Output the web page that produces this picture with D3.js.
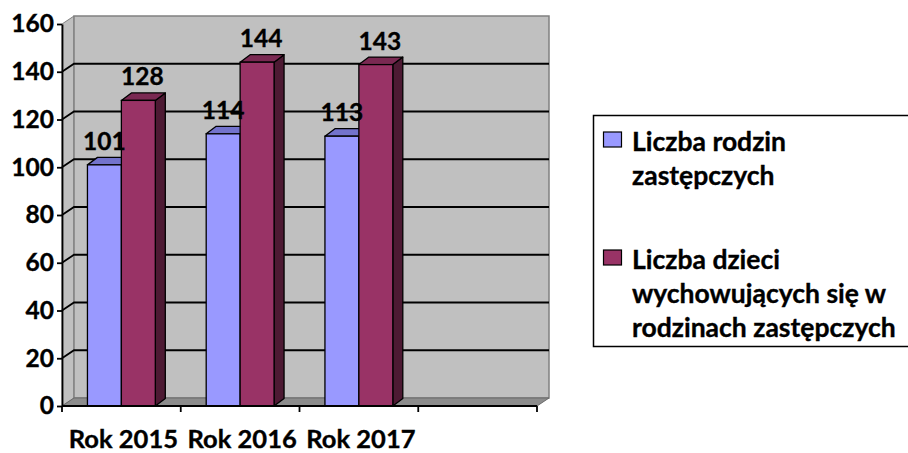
<!DOCTYPE html>
<html>
<head>
<meta charset="utf-8">
<script src="https://cdn.jsdelivr.net/npm/d3@7"></script>
<style>
  html, body { margin: 0; padding: 0; background: #fff; }
  text { font-family: Lato, "Open Sans", sans-serif; font-weight: bold; fill: #000; stroke: #000; stroke-width: 0.35px; }
</style>
</head>
<body>
<svg id="chart" width="908" height="453"></svg>
<script>
// ---- data ----
const categories = ["Rok 2015", "Rok 2016", "Rok 2017", ""];
const seriesNames = ["Liczba rodzin zastępczych", "Liczba dzieci wychowujących się w rodzinach zastępczych"];
const families = [101, 114, 113];
const children = [128, 144, 143];
const yTicks = [0, 20, 40, 60, 80, 100, 120, 140, 160];
const legendLines = [["Liczba rodzin", "zastępczych"], ["Liczba dzieci", "wychowujących się w", "rodzinach zastępczych"]];

// ---- styling / layout ----
const colors = [
  { front: "#9999ff", top: "#7373cc", side: "#4d4d80" },
  { front: "#993366", top: "#7a2952", side: "#4d1a33" }
];
const svg = d3.select("#chart");
const x0 = 62, x1 = 537, yBase = 406, yTop = 24;
const wallDx = 12, wallDy = -8;   // depth of walls
const barDx = 10, barDy = -7.5;   // depth of bars

const x = d3.scaleBand().domain(categories).range([x0, x1]).paddingInner(0).paddingOuter(0);
const xs = d3.scaleBand().domain([0, 1]).range([0, x.bandwidth()]).paddingInner(0).paddingOuter(0.75);
const y = d3.scaleLinear().domain([0, 160]).range([yBase, yTop]);

// ---- walls ----
const g = svg.append("g");
g.append("polygon")
  .attr("points", [[x0, y(160)], [x0 + wallDx, y(160) + wallDy], [x0 + wallDx, y(0) + wallDy], [x0, y(0)]].join(" "))
  .attr("fill", "#c0c0c0").attr("stroke", "#808080").attr("stroke-width", 1);
g.append("rect")
  .attr("x", x0 + wallDx).attr("y", y(160) + wallDy)
  .attr("width", x1 - x0).attr("height", y(0) - y(160))
  .attr("fill", "#c0c0c0").attr("stroke", "#808080").attr("stroke-width", 1.5);
g.append("polygon")
  .attr("points", [[x0, y(0)], [x1, y(0)], [x1 + wallDx, y(0) + wallDy], [x0 + wallDx, y(0) + wallDy]].join(" "))
  .attr("fill", "#8c8c8c").attr("stroke", "#6a6a6a").attr("stroke-width", 1);

const gridVals = yTicks.filter(v => v > 0 && v < 160);
g.selectAll(".grid").data(gridVals).enter().append("polyline")
  .attr("points", v => [[x0, y(v)], [x0 + wallDx, y(v) + wallDy], [x1 + wallDx, y(v) + wallDy]].join(" "))
  .attr("fill", "none").attr("stroke", "#000").attr("stroke-width", 1.8);

// ---- bars ----
const series = [families, children];
const bars = [];
categories.forEach((c, i) => {
  series.forEach((s, j) => {
    if (s[i] === undefined) return;
    bars.push({ cat: c, si: j, v: s[i] });
  });
});
const bg = svg.append("g");
bars.forEach(b => {
  const bx = x(b.cat) + xs(b.si), bw = xs.bandwidth();
  const by = y(b.v), bb = y(0);
  const col = colors[b.si];
  bg.append("polygon")
    .attr("points", [[bx + bw, by], [bx + bw + barDx, by + barDy], [bx + bw + barDx, bb + barDy], [bx + bw, bb]].join(" "))
    .attr("fill", col.side).attr("stroke", "#000").attr("stroke-width", 1.3).attr("stroke-linejoin", "round");
  bg.append("polygon")
    .attr("points", [[bx, by], [bx + barDx, by + barDy], [bx + bw + barDx, by + barDy], [bx + bw, by]].join(" "))
    .attr("fill", col.top).attr("stroke", "#000").attr("stroke-width", 1.3).attr("stroke-linejoin", "round");
  bg.append("rect")
    .attr("x", bx).attr("y", by).attr("width", bw).attr("height", bb - by)
    .attr("fill", col.front).attr("stroke", "#000").attr("stroke-width", 1.3);
});

// data labels
svg.append("g").selectAll("text").data(bars).enter().append("text")
  .attr("x", b => x(b.cat) + xs(b.si) + xs.bandwidth() / 2 + (b.si === 0 ? 0 : 4))
  .attr("y", b => y(b.v) - 15)
  .attr("text-anchor", "middle")
  .attr("font-size", 24.5)
  .text(b => b.v);

// ---- axes ----
const yAxis = svg.append("g").attr("transform", `translate(${x0},0)`)
  .call(d3.axisLeft(y).tickValues(yTicks).tickSize(5).tickSizeOuter(0).tickPadding(3));
yAxis.select(".domain").attr("stroke", "#000").attr("stroke-width", 1.8);
yAxis.selectAll(".tick line").attr("stroke", "#000").attr("stroke-width", 1.8);
yAxis.selectAll(".tick text").attr("font-size", 24.5).attr("font-family", "Lato, sans-serif").attr("font-weight", "bold").attr("fill", "#000");

const xg = svg.append("g");
xg.append("line").attr("x1", x0).attr("x2", x1).attr("y1", y(0)).attr("y2", y(0))
  .attr("stroke", "#000").attr("stroke-width", 1.8);
const bounds = categories.map(c => x(c)).concat([x.range()[1]]);
xg.selectAll(".xt").data(bounds).enter().append("line")
  .attr("x1", d => d).attr("x2", d => d).attr("y1", y(0)).attr("y2", y(0) + 6)
  .attr("stroke", "#000").attr("stroke-width", 1.8);
xg.selectAll(".xl").data(categories).enter().append("text")
  .attr("x", c => x(c) + x.bandwidth() / 2 + 2)
  .attr("y", 448)
  .attr("text-anchor", "middle")
  .attr("font-size", 25.5)
  .text(c => c);

// ---- legend ----
const lg = svg.append("g");
lg.append("rect").attr("x", 593.5).attr("y", 115.5).attr("width", 330).attr("height", 231)
  .attr("fill", "#fff").attr("stroke", "#000").attr("stroke-width", 1.5);
const entryTop = [151, 269];
legendLines.forEach((lines, j) => {
  lg.append("rect").attr("x", 603.5).attr("y", entryTop[j] - 19).attr("width", 18).attr("height", 15)
    .attr("fill", colors[j].front).attr("stroke", "#000").attr("stroke-width", 1.2);
  lines.forEach((t, k) => {
    lg.append("text").attr("x", 632).attr("y", entryTop[j] + k * 34)
      .attr("font-size", 26.5).text(t);
  });
});
</script>
</body>
</html>
